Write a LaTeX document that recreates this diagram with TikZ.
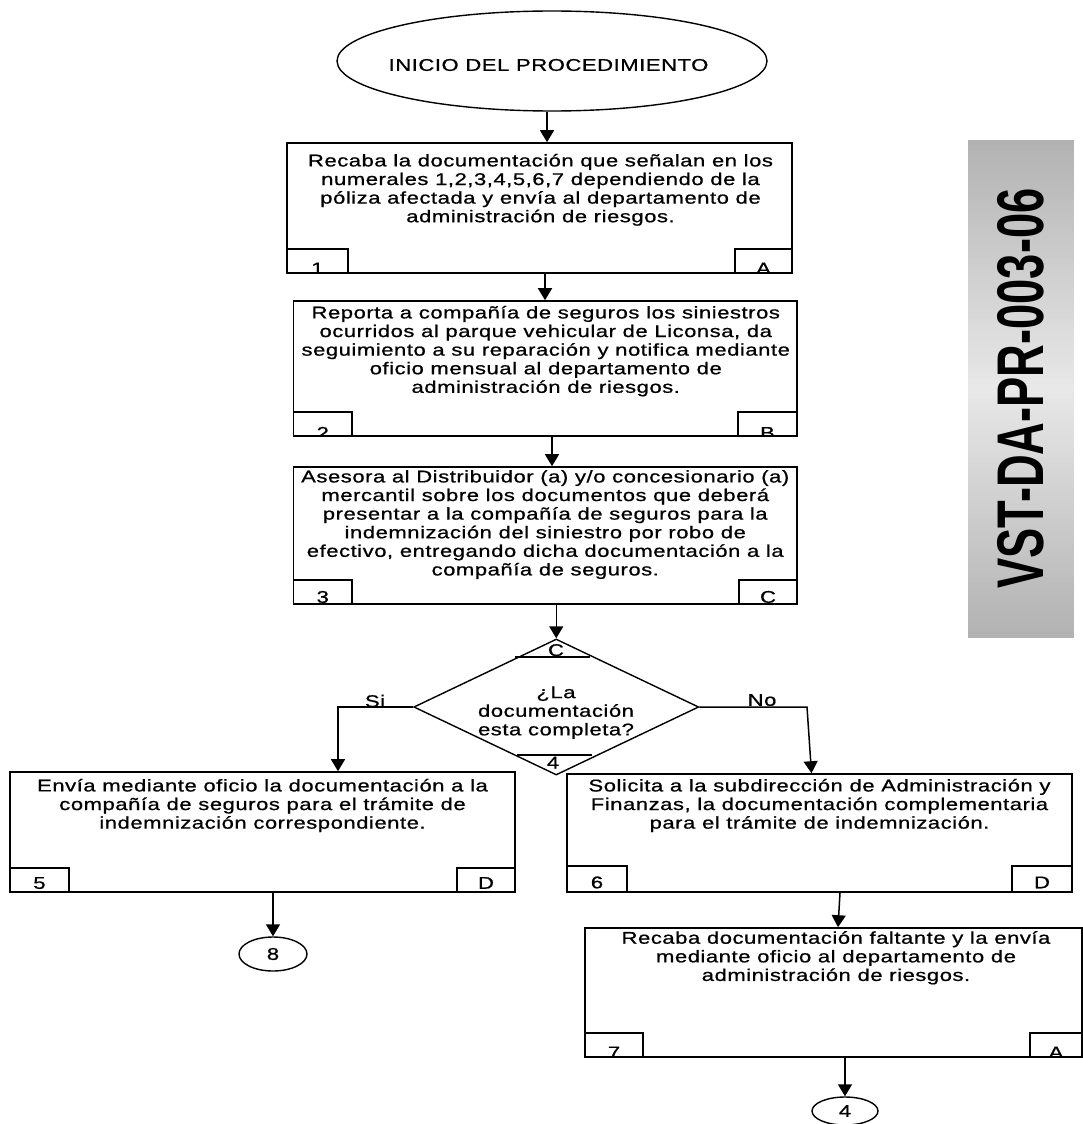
\documentclass[tikz,border=0pt]{standalone}
\usepackage{fontspec}
\setmainfont{Liberation Sans}[FakeStretch=1.3,LetterSpace=3,FakeBold=0.8]
\newfontfamily\bannerfont{Liberation Sans}[FakeStretch=0.686]
\usetikzlibrary{shapes.geometric,arrows.meta}

\begin{document}
\begin{tikzpicture}[x=1pt,y=-1pt,
  txt/.style={inner sep=0pt, align=center, font=\fontsize{17}{18.6}\selectfont},
  boxsh/.style={draw, line width=1.6pt, rectangle, inner sep=0pt},
  tabsh/.style={draw, line width=1.6pt, rectangle, inner sep=0pt, minimum height=24pt},
  outl/.style={line width=1.4pt},
  arr/.style={line width=1.5pt, -{Triangle[width=14pt,length=12pt]}}]

\useasboundingbox (0,0) rectangle (1083,1124);

% document code banner: grey band, lighter towards the middle
\foreach \i in {0,...,99}{
  \pgfmathsetmacro{\shadeamt}{9+21*abs(2*\i/99-1)}
  \fill[black!\shadeamt] (968,{140+4.97*\i}) rectangle (1074,{140+4.97*(\i+1)+0.6});
}
\node[rectangle, inner sep=0pt, minimum width=106pt, minimum height=497pt] (band) at (1021,388.5) {};
\node[rotate=90, inner sep=0pt, font=\bannerfont\bfseries\fontsize{66}{66}\selectfont] (code) at (band.center) {VST-DA-PR-003-06};

% start
\node[draw, ellipse, outl, minimum width=430pt, minimum height=100pt, inner sep=0pt] (start) at (552,61) {};
\node[txt] (starttxt) at (548.5,65) {INICIO DEL PROCEDIMIENTO};

% process boxes
\node[boxsh, minimum width=505pt, minimum height=130pt] (box1) at (539.5,208) {};
\node[boxsh, minimum width=503.5pt, minimum height=135pt] (box2) at (545.25,368.5) {};
\node[boxsh, minimum width=503.5pt, minimum height=137pt] (box3) at (545.25,535.5) {};
\node[boxsh, minimum width=505pt, minimum height=120pt] (box5) at (262.5,832) {};
\node[boxsh, minimum width=505pt, minimum height=118pt] (box6) at (819.5,833) {};
\node[boxsh, minimum width=497pt, minimum height=129pt] (box7) at (833.5,992.5) {};

\node[txt, anchor=north] (t1) at ([xshift=1pt,yshift=-11pt]box1.north) {\strut Recaba la documentación que señalan en los\\numerales 1,2,3,4,5,6,7 dependiendo de la\\póliza afectada y envía al departamento de\\administración de riesgos.};
\node[txt, anchor=north] (t2) at ([xshift=0.5pt,yshift=-5pt]box2.north) {\strut Reporta a compañía de seguros los siniestros\\ocurridos al parque vehicular de Liconsa, da\\seguimiento a su reparación y notifica mediante\\oficio mensual al departamento de\\administración de riesgos.};
\node[txt, anchor=north] (t3) at ([yshift=-3pt]box3.north) {\strut Asesora al Distribuidor (a) y/o concesionario (a)\\mercantil sobre los documentos que deberá\\presentar a la compañía de seguros para la\\indemnización del siniestro por robo de\\efectivo, entregando dicha documentación a la\\compañía de seguros.};
\node[txt, anchor=north] (t5) at ([yshift=-7pt]box5.north) {\strut Envía mediante oficio la documentación a la\\compañía de seguros para el trámite de\\indemnización correspondiente.};
\node[txt, anchor=north] (t6) at ([yshift=-5pt]box6.north) {\strut Solicita a la subdirección de Administración y\\Finanzas, la documentación complementaria\\para el trámite de indemnización.};
\node[txt, anchor=north] (t7) at ([xshift=2.5pt,yshift=-3.3pt]box7.north) {\strut Recaba documentación faltante y la envía\\mediante oficio al departamento de\\administración de riesgos.};

% corner tabs
\node[tabsh, minimum width=61pt, anchor=south west] (b1l) at (box1.south west) {};
\node[tabsh, minimum width=57pt, anchor=south east] (b1r) at (box1.south east) {};
\node[tabsh, minimum width=58.5pt, anchor=south west] (b2l) at (box2.south west) {};
\node[tabsh, minimum width=59pt, anchor=south east] (b2r) at (box2.south east) {};
\node[tabsh, minimum width=58.5pt, anchor=south west] (b3l) at (box3.south west) {};
\node[tabsh, minimum width=58pt, anchor=south east] (b3r) at (box3.south east) {};
\node[tabsh, minimum width=59pt, anchor=south west] (b5l) at (box5.south west) {};
\node[tabsh, minimum width=58pt, anchor=south east] (b5r) at (box5.south east) {};
\node[tabsh, minimum width=60pt, minimum height=26pt, anchor=south west] (b6l) at (box6.south west) {};
\node[tabsh, minimum width=60pt, minimum height=26pt, anchor=south east] (b6r) at (box6.south east) {};
\node[tabsh, minimum width=58pt, anchor=south west] (b7l) at (box7.south west) {};
\node[tabsh, minimum width=52pt, anchor=south east] (b7r) at (box7.south east) {};

% tab labels, cut off by the tab frame
\begin{scope}\clip (b1l.south west) rectangle (b1l.north east);
\node[txt, anchor=base] (l1) at ([yshift=-0.5pt]b1l.south) {1};\end{scope}
\begin{scope}\clip (b1r.south west) rectangle (b1r.north east);
\node[txt, anchor=base] (r1) at ([yshift=-0.5pt]b1r.south) {A};\end{scope}
\begin{scope}\clip (b2l.south west) rectangle (b2l.north east);
\node[txt, anchor=base] (l2) at ([yshift=-2pt]b2l.south) {2};\end{scope}
\begin{scope}\clip (b2r.south west) rectangle (b2r.north east);
\node[txt, anchor=base] (r2) at ([yshift=-2pt]b2r.south) {B};\end{scope}
\begin{scope}\clip (b3l.south west) rectangle (b3l.north east);
\node[txt, anchor=base] (l3) at ([yshift=2pt]b3l.south) {3};\end{scope}
\begin{scope}\clip (b3r.south west) rectangle (b3r.north east);
\node[txt, anchor=base] (r3) at ([yshift=2pt]b3r.south) {C};\end{scope}
\begin{scope}\clip (b5l.south west) rectangle (b5l.north east);
\node[txt, anchor=base] (l5) at ([yshift=4pt]b5l.south) {5};\end{scope}
\begin{scope}\clip (b5r.south west) rectangle (b5r.north east);
\node[txt, anchor=base] (r5) at ([yshift=4pt]b5r.south) {D};\end{scope}
\begin{scope}\clip (b6l.south west) rectangle (b6l.north east);
\node[txt, anchor=base] (l6) at ([yshift=4.5pt]b6l.south) {6};\end{scope}
\begin{scope}\clip (b6r.south west) rectangle (b6r.north east);
\node[txt, anchor=base] (r6) at ([yshift=4.5pt]b6r.south) {D};\end{scope}
\begin{scope}\clip (b7l.south west) rectangle (b7l.north east);
\node[txt, anchor=base] (l7) at ([yshift=-0.5pt]b7l.south) {7};\end{scope}
\begin{scope}\clip (b7r.south west) rectangle (b7r.north east);
\node[txt, anchor=base] (r7) at ([yshift=-0.5pt]b7r.south) {A};\end{scope}

% decision
\node[draw, diamond, outl, minimum width=285pt, minimum height=136pt, inner sep=0pt] (dia) at (556.25,707) {};
\node[txt] (diatxt) at (556,713) {\strut¿La\\documentación\\esta completa?\strut};
\draw[outl] (515,657) -- (590,657);
\draw[outl] (517,755) -- (592,755);
\node[txt, anchor=base] (diaC) at (556,656) {C};
\node[txt, anchor=base] (dia4) at (553,768.5) {4};

% connectors
\coordinate (siC) at (338,707);
\coordinate (noC) at (807,707);
\draw[arr] ([xshift=-5pt]start.south) -- ([xshift=7.5pt]box1.north);
\draw[arr] ([xshift=5.5pt]box1.south) -- ([xshift=-0.25pt]box2.north);
\draw[arr] ([xshift=6.75pt]box2.south) -- ([xshift=6.75pt]box3.north);
\draw[arr] ([xshift=11pt]box3.south) -- (dia.north);
\draw[arr] (dia.west) -- (siC) -- (siC |- box5.north);
\draw[arr] (dia.east) -- (noC) -- ([xshift=-8pt]box6.north);
\node[txt] (si) at (375,701) {Si};
\node[txt] (no) at (762,700) {No};

% off-page connectors
\node[draw, ellipse, outl, txt, minimum width=68pt, minimum height=34pt] (c8) at (273,954) {8};
\node[draw, ellipse, outl, txt, minimum width=66pt, minimum height=28pt] (c4) at (845,1111) {4};
\draw[arr] ([xshift=10.5pt]box5.south) -- (c8.north);
\draw[arr] ([xshift=20.5pt]box6.south) -- ([xshift=4.5pt]box7.north);
\draw[arr] ([xshift=11.5pt]box7.south) -- (c4.north);
\end{tikzpicture}
\end{document}
